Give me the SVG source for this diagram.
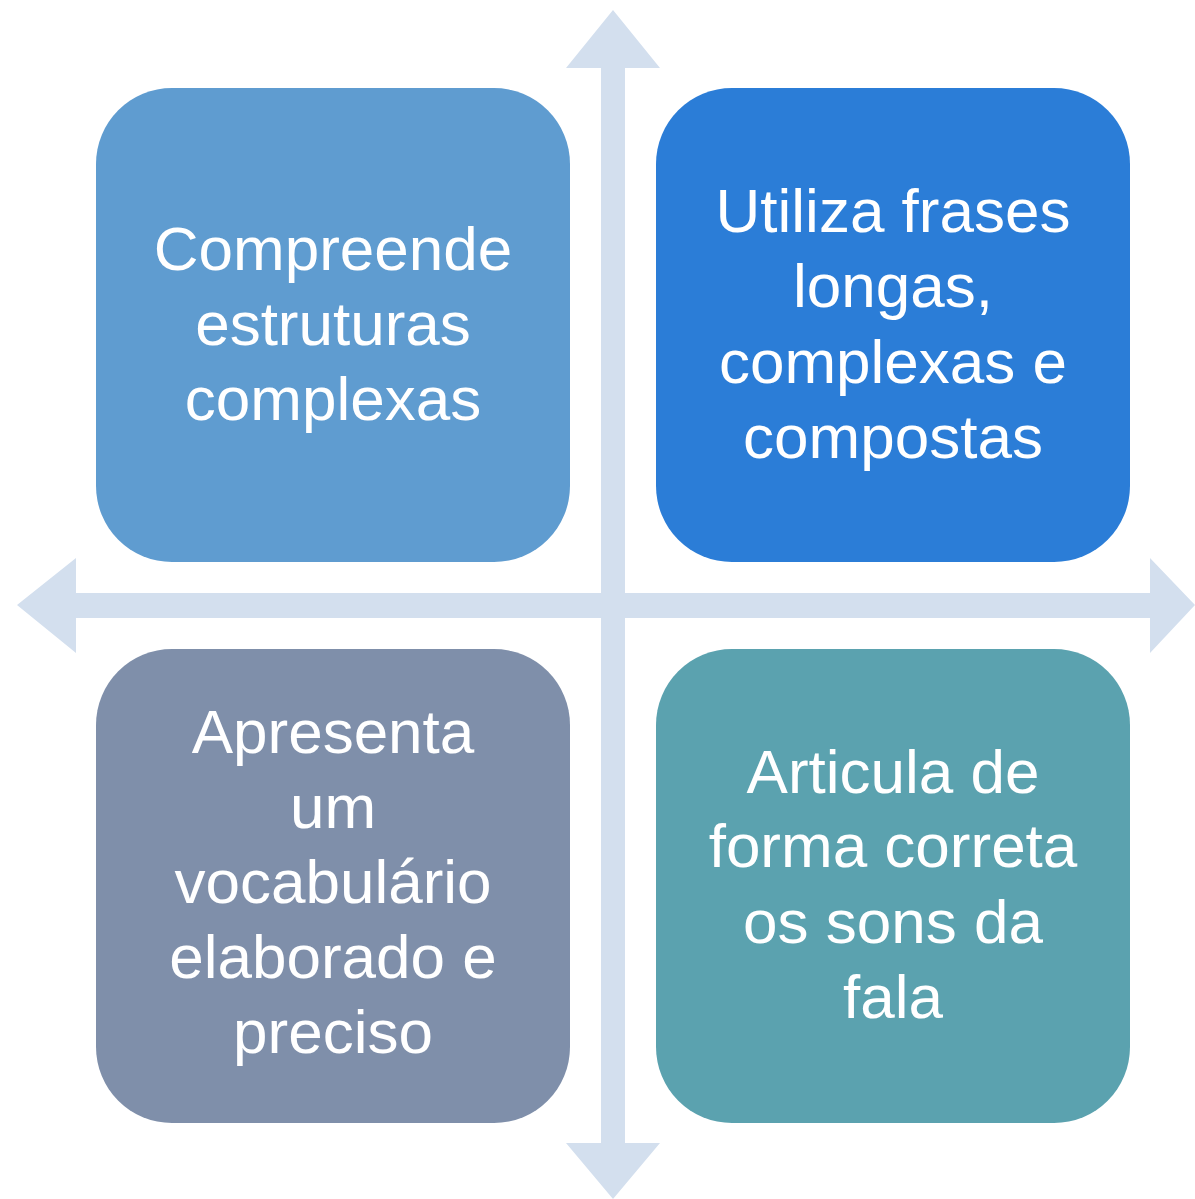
<svg xmlns="http://www.w3.org/2000/svg" width="1195" height="1199" viewBox="0 0 1195 1199">
<style>
.lbl{font-family:"Liberation Sans",Arial,sans-serif;font-size:62px;fill:#ffffff;text-anchor:middle}
.axis{fill:#D3DFEE}
</style>
<rect width="1195" height="1199" fill="#ffffff"/>
<g id="connectors">
<polygon class="axis" points="613,10 660,68 625,68 625,593 1150,593 1150,558 1195,605 1150,653 1150,618 625,618 625,1143 660,1143 613,1199 566,1143 601,1143 601,618 76,618 76,653 17,605 76,558 76,593 601,593 601,68 566,68"/>
</g>
<g id="node-tl">
<rect x="96" y="88" width="474" height="474" rx="76" fill="#5F9CD0"/>
<text class="lbl" x="333" y="270">Compreende</text>
<text class="lbl" x="333" y="345">estruturas</text>
<text class="lbl" x="333" y="420">complexas</text>
</g>
<g id="node-tr">
<rect x="656" y="88" width="474" height="474" rx="76" fill="#2B7DD7"/>
<text class="lbl" x="893" y="232">Utiliza frases</text>
<text class="lbl" x="893" y="307">longas,</text>
<text class="lbl" x="893" y="383">complexas e</text>
<text class="lbl" x="893" y="458">compostas</text>
</g>
<g id="node-bl">
<rect x="96" y="649" width="474" height="474" rx="76" fill="#7F8FAA"/>
<text class="lbl" x="333" y="753">Apresenta</text>
<text class="lbl" x="333" y="828">um</text>
<text class="lbl" x="333" y="903">vocabulário</text>
<text class="lbl" x="333" y="978">elaborado e</text>
<text class="lbl" x="333" y="1053">preciso</text>
</g>
<g id="node-br">
<rect x="656" y="649" width="474" height="474" rx="76" fill="#5BA2AF"/>
<text class="lbl" x="893" y="793">Articula de</text>
<text class="lbl" x="893" y="867">forma correta</text>
<text class="lbl" x="893" y="943">os sons da</text>
<text class="lbl" x="893" y="1018">fala</text>
</g>
</svg>
